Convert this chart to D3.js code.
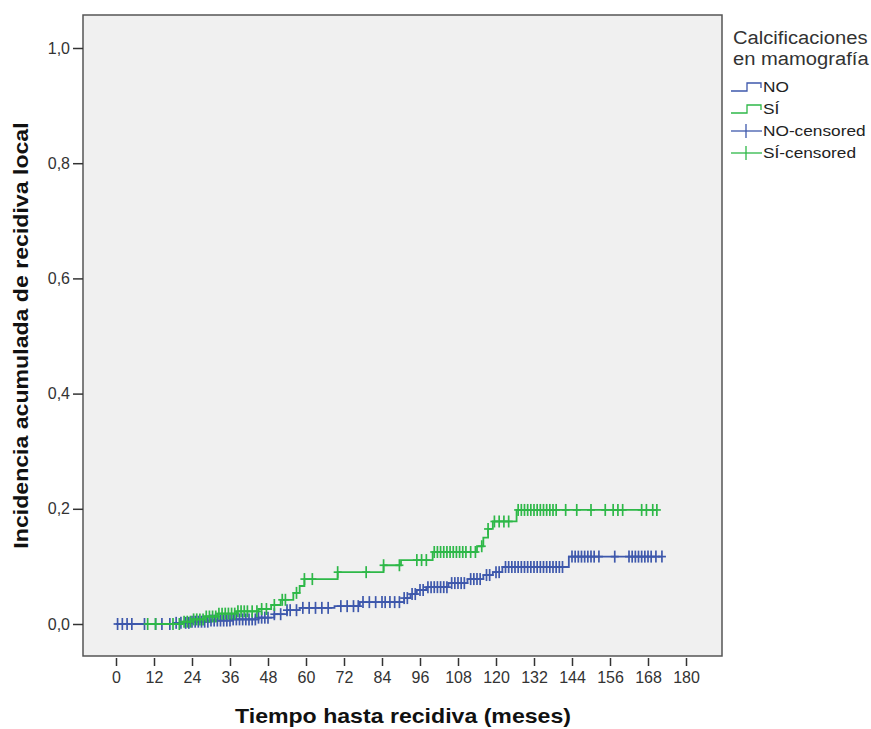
<!DOCTYPE html>
<html>
<head>
<meta charset="utf-8">
<script src="https://cdn.jsdelivr.net/npm/d3@7"></script>
<style>
  body { margin: 0; background: #fff; }
  text { font-family: "Liberation Sans", Arial, sans-serif; }
</style>
</head>
<body>
<svg id="chart" width="871" height="729"></svg>
<script>
// x-axis ticks (months) and y-axis ticks
const xTicks = [0, 12, 24, 36, 48, 60, 72, 84, 96, 108, 120, 132, 144, 156, 168, 180];
const yTicks = [0, 0.2, 0.4, 0.6, 0.8, 1.0];

// cumulative incidence steps, group NO: [month, value]
const noSteps = [
  [0, 0], [18, 0.002], [24, 0.004], [30, 0.006], [37, 0.008], [45, 0.011],
  [50, 0.017], [54, 0.024], [58, 0.028], [69, 0.031], [77, 0.038],
  [91, 0.045], [93, 0.052], [95, 0.059], [98, 0.064], [105, 0.071],
  [111, 0.078], [116, 0.085], [119, 0.09], [122, 0.099], [143, 0.117]
];
const noEnd = 172.4;
const noCensored = [
  0.5, 2, 3.5, 5, 9, 12.5, 14.5, 17, 19, 20.5, 22, 23, 24, 25, 26, 27, 28, 29, 30,
  31, 32, 33, 34, 35, 36, 37, 38, 39, 40, 41, 42, 43, 44, 45, 46, 47, 48, 50, 52,
  54, 55, 57, 59, 61, 63, 65, 67, 71, 73, 75, 76.5, 78, 80, 82, 84, 85, 86.5, 88,
  89.5, 91, 92, 93.5, 94.5, 96, 97, 98.5, 99.5, 100.5, 101.5, 102.5, 103.5, 104.5,
  106, 107, 108, 109, 110, 112, 113, 114, 115, 117, 118, 120, 121, 123, 124, 125,
  126, 127, 128, 129, 130, 131, 132, 133, 134, 135, 136, 137, 138, 139, 140, 141,
  144, 145, 146, 147, 148, 149, 150, 151, 152.5, 157.5, 162, 163, 164, 165, 166,
  167, 168, 169, 170.5, 172.4
];

// cumulative incidence steps, group SÍ
const siSteps = [
  [10, 0], [21, 0.004], [24, 0.008], [28, 0.013], [32, 0.018], [38, 0.022],
  [45, 0.026], [49, 0.033], [52, 0.042], [56, 0.054], [58, 0.066], [59.5, 0.078],
  [70, 0.09], [84.5, 0.102], [90, 0.111], [100, 0.125], [114, 0.135],
  [116, 0.15], [117.5, 0.165], [119, 0.178], [126.5, 0.198]
];
const siEnd = 170.8;
const siCensored = [
  10, 12.5, 18, 20, 21.5, 22.5, 23.5, 24.5, 25.5, 26.5, 27.5, 28.5, 29.5, 30.5,
  31.5, 32.5, 33.5, 34.5, 35.5, 36.5, 37.5, 38.5, 39.5, 40.5, 41.5, 43, 44.5, 46,
  47.5, 50, 52.5, 53.5, 57, 59.5, 62, 70, 79, 84.5, 89.5, 95, 96.5, 98, 100.5,
  101.5, 102.5, 103.5, 104.5, 105.5, 106.5, 107.5, 108.5, 109.5, 110.5, 112,
  113.5, 115.5, 117.5, 119.5, 121, 122.5, 124, 127, 128, 129, 130, 131, 132, 133,
  134, 135, 136, 137, 138, 139, 142, 145.5, 150, 154.5, 157, 158.5, 160, 166,
  167.5, 169.5, 170.8
];

const legendTitle = ['Calcificaciones', 'en mamografía'];
const legendItems = ['NO', 'SÍ', 'NO-censored', 'SÍ-censored'];

const blue = '#3e58ac';
const green = '#2eb848';

const svg = d3.select('#chart');

// plot frame
const frame = { left: 83, top: 15, right: 722, bottom: 656 };

const x = d3.scaleLinear().domain([0, 180]).range([116, 686]);
const y = d3.scaleLinear().domain([0, 1]).range([624, 48]);

svg.append('rect')
  .attr('x', frame.left).attr('y', frame.top)
  .attr('width', frame.right - frame.left)
  .attr('height', frame.bottom - frame.top)
  .attr('fill', '#f0f0f0')
  .attr('stroke', '#555')
  .attr('stroke-width', 1.5);

// widen text a bit, the source font runs wider than Liberation Sans
function stretch(sel, k) {
  sel.each(function () {
    const w = this.getComputedTextLength();
    d3.select(this).attr('textLength', w * k).attr('lengthAdjust', 'spacingAndGlyphs');
  });
}

// y axis
const yAxis = svg.append('g')
  .attr('transform', `translate(${frame.left},0)`)
  .call(d3.axisLeft(y).tickValues(yTicks).tickSize(10).tickPadding(3)
    .tickFormat(d => d3.format('.1f')(d).replace('.', ',')));
yAxis.select('.domain').remove();
yAxis.selectAll('line').attr('stroke', '#333').attr('stroke-width', 1.5);
yAxis.selectAll('text').attr('fill', '#333').style('font-size', '16px');

// x axis (ticks only, below the frame)
const xAxis = svg.append('g')
  .attr('transform', `translate(0,${frame.bottom + 2})`)
  .call(d3.axisBottom(x).tickValues(xTicks).tickSize(8).tickPadding(6));
xAxis.select('.domain').remove();
xAxis.selectAll('line').attr('stroke', '#333').attr('stroke-width', 1.5);
xAxis.selectAll('text').attr('fill', '#333').style('font-size', '16px');

// axis titles
svg.append('text')
  .attr('x', 403)
  .attr('y', 723)
  .attr('text-anchor', 'middle')
  .attr('fill', '#111')
  .style('font-size', '21px')
  .style('font-weight', 'bold')
  .text('Tiempo hasta recidiva (meses)')
  .call(stretch, 1.1);

svg.append('text')
  .attr('transform', `translate(28,${(frame.top + frame.bottom) / 2}) rotate(-90)`)
  .attr('text-anchor', 'middle')
  .attr('fill', '#111')
  .style('font-size', '21px')
  .style('font-weight', 'bold')
  .text('Incidencia acumulada de recidiva local')
  .call(stretch, 1.1);

// step curves
function stepPath(steps, end) {
  const pts = steps.concat([[end, steps[steps.length - 1][1]]]);
  return d3.line().curve(d3.curveStepAfter).x(d => x(d[0])).y(d => y(d[1]))(pts);
}
function valueAt(steps, t) {
  const i = d3.bisector(d => d[0]).right(steps, t) - 1;
  return steps[Math.max(i, 0)][1];
}

const series = [
  { steps: noSteps, end: noEnd, cens: noCensored, color: blue },
  { steps: siSteps, end: siEnd, cens: siCensored, color: green }
];

series.forEach(s => {
  svg.append('path')
    .attr('d', stepPath(s.steps, s.end))
    .attr('fill', 'none')
    .attr('stroke', s.color)
    .attr('stroke-width', 1.8);

  const g = svg.append('g').attr('stroke', s.color).attr('stroke-width', 1.7);
  s.cens.forEach(t => {
    const cx = x(t), cy = y(valueAt(s.steps, t));
    g.append('line').attr('x1', cx).attr('x2', cx).attr('y1', cy - 6).attr('y2', cy + 6);
    g.append('line').attr('x1', cx - 4).attr('x2', cx + 4).attr('y1', cy).attr('y2', cy);
  });
});

// legend
const lg = svg.append('g');
legendTitle.forEach((t, i) => {
  lg.append('text')
    .attr('x', 733).attr('y', 44 + i * 21)
    .attr('fill', '#333')
    .style('font-size', '18px')
    .text(t)
    .call(stretch, 1.12);
});
const legendColors = [blue, green, blue, green];
legendItems.forEach((t, i) => {
  const cy = 87 + i * 22;
  const c = legendColors[i];
  if (i < 2) {
    lg.append('path')
      .attr('d', `M731,${cy + 4}H747V${cy - 4}H761V${cy + 1}`)
      .attr('fill', 'none').attr('stroke', c).attr('stroke-width', 1.3);
  } else {
    lg.append('line').attr('x1', 731).attr('x2', 762).attr('y1', cy).attr('y2', cy)
      .attr('stroke', c).attr('stroke-width', 1.3);
    lg.append('line').attr('x1', 746).attr('x2', 746).attr('y1', cy - 7).attr('y2', cy + 7)
      .attr('stroke', c).attr('stroke-width', 1.3);
  }
  lg.append('text')
    .attr('x', 763).attr('y', cy + 5)
    .attr('fill', '#222')
    .style('font-size', '15px')
    .text(t)
    .call(stretch, 1.15);
});
</script>
</body>
</html>
